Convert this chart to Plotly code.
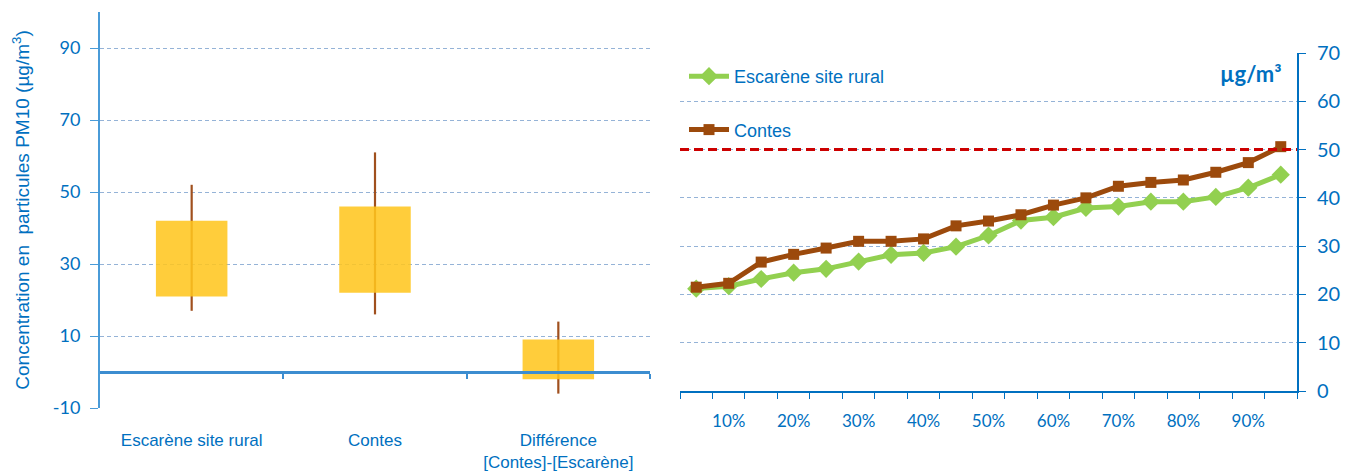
import plotly.graph_objects as go

# ---- Left panel: PM10 distribution per site (min / Q1 / Q3 / max) ----
sites = ["Escarène site rural", "Contes", "Différence<br>[Contes]-[Escarène]"]
pm_low = [17, 16, -6]
pm_q1 = [21, 22, -2]
pm_q3 = [42, 46, 9]
pm_high = [52, 61, 14]
left_ticks = [-10, 10, 30, 50, 70, 90]
left_tick_text = ["-10", "10", "30", "50", "70", "90"]

# ---- Right panel: cumulative distribution (percentiles) ----
percentiles = ["5%", "10%", "15%", "20%", "25%", "30%", "35%", "40%", "45%", "50%",
               "55%", "60%", "65%", "70%", "75%", "80%", "85%", "90%", "95%"]
percentile_labels = ["", "10%", "", "20%", "", "30%", "", "40%", "", "50%",
                     "", "60%", "", "70%", "", "80%", "", "90%", ""]
escarene = [21.2, 21.7, 23.2, 24.5, 25.3, 26.8, 28.2, 28.6, 29.9, 32.2,
            35.3, 36.0, 37.9, 38.2, 39.2, 39.2, 40.2, 42.1, 44.8]
contes = [21.5, 22.3, 26.7, 28.3, 29.6, 31.0, 31.0, 31.5, 34.2, 35.2,
          36.5, 38.5, 40.0, 42.4, 43.2, 43.7, 45.3, 47.3, 50.6]
LIMIT_VALUE = 50

BLUE = "#0070C0"
AXIS_BLUE = "#3C8DD0"
GRID = "#95B3D7"
GRID_DASH = "4px,3px"
NARROW = "Liberation Sans Narrow, Arial Narrow, Liberation Sans, sans-serif"
CAL = "Lato, Open Sans, sans-serif"

W, H = 1349, 474


def fx(px):
    return px / W


def fy(py):
    return (H - py) / H


fig = go.Figure()

# whiskers (min-max) as thin bars, so the boxes can sit on top of them
fig.add_trace(go.Bar(x=sites, y=[h - l for l, h in zip(pm_low, pm_high)], base=pm_low,
                     marker=dict(color="#A0501E", line=dict(width=0)),
                     width=0.012, showlegend=False, hoverinfo="skip",
                     xaxis="x", yaxis="y"))

# interquartile boxes (slightly translucent)
fig.add_trace(go.Bar(x=sites, y=[b - a for a, b in zip(pm_q1, pm_q3)], base=pm_q1,
                     marker=dict(color="rgba(255,198,30,0.87)", line=dict(width=0)),
                     width=0.39, showlegend=False, xaxis="x", yaxis="y"))

# empty trace so the zero-crossing axis gets drawn
fig.add_trace(go.Scatter(x=[], y=[], xaxis="x3", yaxis="y", showlegend=False,
                         hoverinfo="skip"))

# percentile curves
fig.add_trace(go.Scatter(x=percentiles, y=escarene, mode="lines+markers",
                         name="Escarène site rural", legendgroup="a",
                         line=dict(color="#92D050", width=5),
                         marker=dict(symbol="diamond", size=14, color="#92D050"),
                         xaxis="x2", yaxis="y2"))
fig.add_trace(go.Scatter(x=percentiles, y=contes, mode="lines+markers",
                         name="Contes", legendgroup="b",
                         line=dict(color="#9C4A0C", width=5),
                         marker=dict(symbol="square", size=11, color="#9C4A0C"),
                         xaxis="x2", yaxis="y2"))

# limit value line
fig.add_shape(type="line", xref="x2 domain", x0=0, x1=1, yref="y2",
              y0=LIMIT_VALUE, y1=LIMIT_VALUE,
              line=dict(color="#CC0000", width=3, dash="9px,5px"), layer="above")

ldom_y = [fy(408), fy(12)]
l_range = [-10, 100]
zero_pos = ldom_y[0] + (0 - l_range[0]) / (l_range[1] - l_range[0]) * (ldom_y[1] - ldom_y[0])

fig.update_layout(
    width=W, height=H,
    margin=dict(l=0, r=0, t=0, b=0, autoexpand=False),
    paper_bgcolor="white", plot_bgcolor="white",
    barmode="overlay",
    xaxis=dict(domain=[fx(100), fx(650)], anchor="y", type="category", automargin=False,
               range=[-0.5, len(sites) - 0.5],
               showline=False, ticks="", showgrid=False,
               tickfont=dict(family=NARROW, size=17, color=BLUE),
               ticklabelstandoff=20),
    # horizontal axis through zero with boundary ticks
    xaxis3=dict(overlaying="x", anchor="free", position=zero_pos, range=[0, 3],
                automargin=False,
                tickvals=[1, 2, 3], ticks="outside", ticklen=5, tickwidth=1.5,
                tickcolor=AXIS_BLUE, showline=True, linecolor=AXIS_BLUE, linewidth=2.5,
                showticklabels=False, showgrid=False, zeroline=False),
    yaxis=dict(domain=ldom_y, anchor="x", range=l_range, automargin=False,
               tickmode="array", tickvals=left_ticks, ticktext=left_tick_text,
               showline=True, linecolor="#4A9BD8", linewidth=2,
               ticks="outside", ticklen=8, tickcolor="#4A9BD8",
               showgrid=True, gridcolor=GRID, griddash=GRID_DASH, gridwidth=1.3,
               zeroline=False, ticklabelstandoff=6,
               tickfont=dict(family=CAL, size=18, color=BLUE),
               title=dict(text="Concentration en  particules PM10 (µg/m<sup>3</sup>)",
                          font=dict(family="Liberation Sans, Arial, sans-serif", size=19, color=BLUE),
                          standoff=18)),
    xaxis2=dict(domain=[fx(680), fx(1297)], anchor="y2", type="category", automargin=False,
                range=[-0.5, len(percentiles) - 0.5],
                tickmode="array", tickvals=percentiles, ticktext=percentile_labels,
                tickson="boundaries", ticks="outside", ticklen=6, tickcolor=BLUE,
                tickangle=0,
                showline=True, linecolor=BLUE, linewidth=2, showgrid=False,
                tickfont=dict(family=CAL, size=17, color=BLUE), ticklabelstandoff=14),
    yaxis2=dict(domain=[fy(391), fy(53)], anchor="x2", side="right", range=[0, 70], dtick=10,
                automargin=False,
                showline=True, linecolor=BLUE, linewidth=2,
                ticks="outside", ticklen=7, tickcolor=BLUE,
                showgrid=True, gridcolor=GRID, griddash=GRID_DASH, gridwidth=1.3,
                zeroline=False, ticklabelstandoff=7,
                tickfont=dict(family=CAL, size=20, color=BLUE)),
    legend=dict(x=fx(684), y=fy(58), xanchor="left", yanchor="top",
                bgcolor="rgba(0,0,0,0)", tracegroupgap=27, itemwidth=40,
                font=dict(family=NARROW, size=18, color=BLUE)),
    annotations=[dict(text="<b>µg/m³</b>", x=fx(1284), y=fy(73), xref="paper", yref="paper",
                      xanchor="right", yanchor="middle", showarrow=False,
                      font=dict(family=CAL, size=22, color=BLUE))],
)

fig.write_html("out.html")
